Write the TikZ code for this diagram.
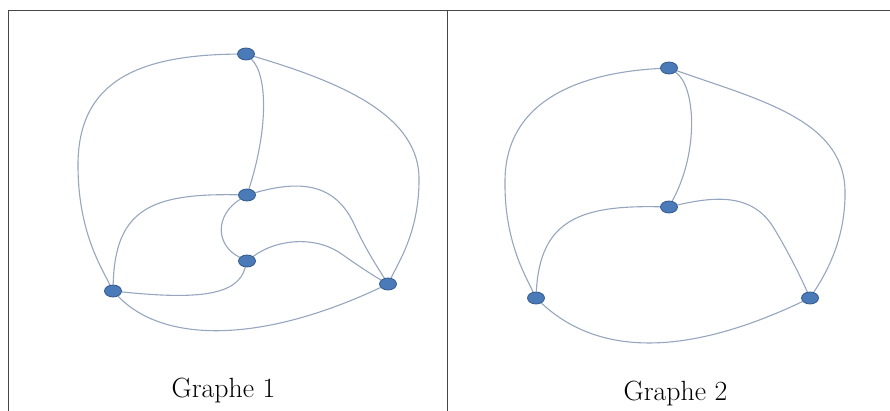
\documentclass[tikz,border=0pt]{standalone}
\usetikzlibrary{shapes.geometric,backgrounds}
\definecolor{edgecol}{RGB}{150,166,190}
\definecolor{nodefill}{RGB}{74,122,184}
\definecolor{nodeline}{RGB}{52,90,140}
\definecolor{rulecol}{RGB}{70,70,70}
\begin{document}
\begin{tikzpicture}[x=1pt,y=-1pt,
  vtx/.style={ellipse,fill=nodefill,draw=nodeline,line width=0.8pt,minimum width=17pt,minimum height=12pt,inner sep=0pt},
  edge/.style={draw=edgecol,line width=1.1pt},
  rulel/.style={draw=rulecol,line width=1.4pt},
  captext/.style={anchor=base,font=\fontsize{27.8}{32}\selectfont}]
\useasboundingbox (0,0) rectangle (890,411);
% table rules
\coordinate (tl) at (8.5,10.5);
\coordinate (tr) at (890,10.5);
\coordinate (bl) at (8.5,411);
\coordinate (tm) at (447.5,10.5);
\coordinate (bm) at (447.5,411);
\draw[rulel] (bl) -- (tl) -- (tr);
\draw[rulel] (tm) -- (bm);

% ---------- Graphe 1 ----------
\node[vtx] (a1) at (246,54) {};
\node[vtx] (c1) at (247,195) {};
\node[vtx] (d1) at (247,261) {};
\node[vtx] (l1) at (113,291) {};
\node[vtx] (r1) at (388,284) {};
\begin{scope}[on background layer]
\draw[edge] (a1) .. controls (140,55) and (78,80) .. (78,165) .. controls (78,230) and (100,265) .. (l1);
\draw[edge] (a1) .. controls (268,75) and (268,130) .. (c1);
\draw[edge] (a1) .. controls (340,82) and (420,115) .. (419,180) .. controls (419,230) and (400,260) .. (r1);
\draw[edge] (c1) .. controls (150,193) and (115,210) .. (l1);
\draw[edge] (c1) .. controls (300,180) and (335,183) .. (354,224) .. controls (366,250) and (378,268) .. (r1);
\draw[edge] (c1) .. controls (215,215) and (215,245) .. (d1);
\draw[edge] (d1) .. controls (278,238) and (318,236) .. (343,255) .. controls (360,267) and (374,276) .. (r1);
\draw[edge] (d1) .. controls (238,295) and (200,300) .. (l1);
\draw[edge] (l1) .. controls (165,345) and (265,342) .. (r1);
\end{scope}
\node[captext] (g1) at (223.5,397) {Graphe 1};

% ---------- Graphe 2 ----------
\node[vtx] (a2) at (669,68) {};
\node[vtx] (c2) at (669,207) {};
\node[vtx] (l2) at (536,298) {};
\node[vtx] (r2) at (810,298) {};
\begin{scope}[on background layer]
\draw[edge] (a2) .. controls (590,72) and (506,95) .. (505,180) .. controls (504,240) and (525,275) .. (l2);
\draw[edge] (a2) .. controls (695,85) and (700,150) .. (c2);
\draw[edge] (a2) .. controls (760,100) and (843,120) .. (845,190) .. controls (846,240) and (825,275) .. (r2);
\draw[edge] (c2) .. controls (580,205) and (540,220) .. (l2);
\draw[edge] (c2) .. controls (720,195) and (755,195) .. (775,230) .. controls (790,255) and (802,280) .. (r2);
\draw[edge] (l2) .. controls (600,358) and (690,355) .. (r2);
\end{scope}
\node[captext] (g2) at (675.5,400) {Graphe 2};
\end{tikzpicture}
\end{document}
